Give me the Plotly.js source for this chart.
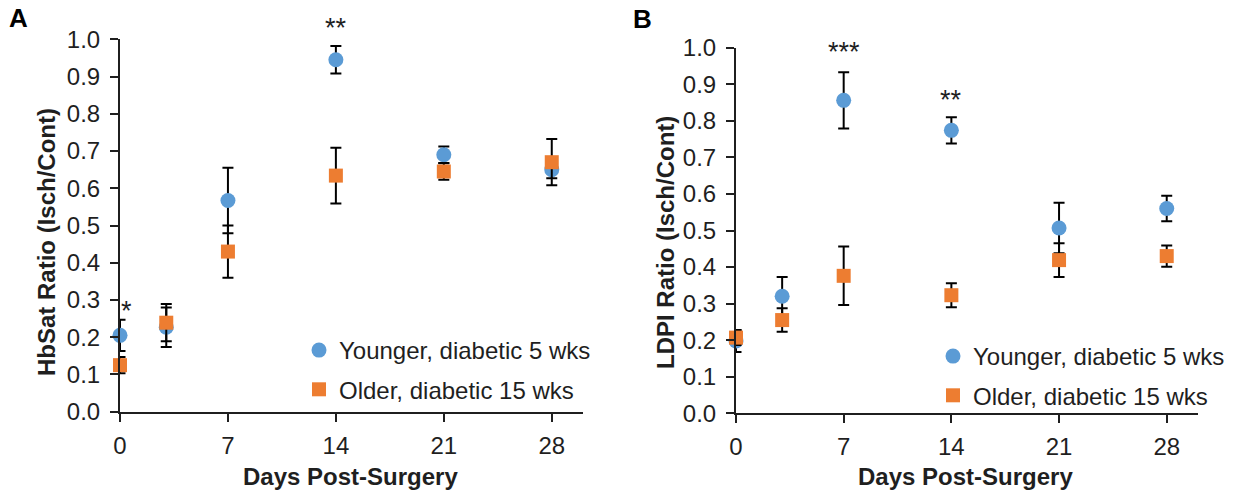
<!DOCTYPE html>
<html>
<head>
<meta charset="utf-8">
<script src="https://cdn.plot.ly/plotly-3.0.1.min.js"></script>
<style>
html,body{margin:0;padding:0;background:#fff;}
#chart{width:1237px;height:497px;}
</style>
</head>
<body>
<div id="chart"></div>
<script>
// ---- data ----
const days = [0, 3, 7, 14, 21, 28];
const xTickVals = [0, 7, 14, 21, 28];
const seriesNames = ['Younger, diabetic 5 wks', 'Older, diabetic 15 wks'];

// Panel A: HbSat ratio
const hbsatYounger    = [0.205, 0.227, 0.567, 0.945, 0.690, 0.650];
const hbsatYoungerErr = [0.042, 0.053, 0.088, 0.037, 0.022, 0.023];
const hbsatOlder      = [0.125, 0.239, 0.430, 0.634, 0.645, 0.670];
const hbsatOlderErr   = [0.022, 0.050, 0.070, 0.075, 0.022, 0.062];

// Panel B: LDPI ratio
const ldpiYounger     = [0.198, 0.320, 0.856, 0.774, 0.507, 0.560];
const ldpiYoungerErr  = [0.030, 0.053, 0.077, 0.036, 0.069, 0.035];
const ldpiOlder       = [0.207, 0.255, 0.376, 0.323, 0.419, 0.430];
const ldpiOlderErr    = [0.020, 0.032, 0.080, 0.033, 0.046, 0.029];

// significance markers (day, ratio level, label)
const sigADays = [0.43, 14];
const sigAY    = [0.27, 1.031];
const sigAText = ['*', '**'];
const sigBDays = [7, 14];
const sigBY    = [0.987, 0.856];
const sigBText = ['***', '**'];

const panelLabels = ['A', 'B'];
const yTitles = ['HbSat Ratio (Isch/Cont)', 'LDPI Ratio (Isch/Cont)'];
const xTitle = 'Days Post-Surgery';

// ---- styling ----
const FONT = 'Arial, "Liberation Sans", sans-serif';
const BLUE = '#5B9BD5';
const ORANGE = '#ED7D31';
const INK = '#1f1f1f';

function trace(y, err, name, color, symbol, xa, ya, legend, group) {
  return {
    type: 'scatter', mode: 'markers', x: days, y: y, name: name,
    xaxis: xa, yaxis: ya, legend: legend, legendgroup: group,
    cliponaxis: false,
    marker: {color: color, symbol: symbol, size: symbol === 'circle' ? 15 : 14, line: {width: 0}},
    error_y: {type: 'data', array: err, visible: true, color: '#000', thickness: 2, width: 5.5}
  };
}

const data = [
  trace(hbsatYounger, hbsatYoungerErr, seriesNames[0], BLUE, 'circle', 'x', 'y', 'legend', 'a1'),
  trace(hbsatOlder, hbsatOlderErr, seriesNames[1], ORANGE, 'square', 'x', 'y', 'legend', 'a2'),
  trace(ldpiYounger, ldpiYoungerErr, seriesNames[0], BLUE, 'circle', 'x2', 'y2', 'legend2', 'b1'),
  trace(ldpiOlder, ldpiOlderErr, seriesNames[1], ORANGE, 'square', 'x2', 'y2', 'legend2', 'b2')
];

function xaxis(domain, anchor) {
  return {
    domain: domain, range: [0, 30], fixedrange: true, anchor: anchor,
    tickmode: 'array', tickvals: xTickVals, ticktext: xTickVals.map(String),
    showline: true, linecolor: INK, linewidth: 2,
    ticks: 'outside', ticklen: 8, tickwidth: 2, tickcolor: INK,
    ticklabelstandoff: 3,
    showgrid: false, zeroline: false,
    tickfont: {family: FONT, size: 24, color: INK},
    automargin: false
  };
}
function yaxis(domain, anchor) {
  return {
    domain: domain, range: [0, 1], fixedrange: true, anchor: anchor,
    tick0: 0, dtick: 0.1, tickformat: '.1f',
    showline: true, linecolor: INK, linewidth: 2,
    ticks: 'outside', ticklen: 8, tickwidth: 2, tickcolor: INK,
    ticklabelstandoff: 5,
    showgrid: false, zeroline: false,
    tickfont: {family: FONT, size: 24, color: INK},
    automargin: false
  };
}

const legendCommon = {
  font: {family: FONT, size: 24, color: INK},
  bgcolor: 'rgba(0,0,0,0)', borderwidth: 0,
  traceorder: 'grouped', tracegroupgap: 5,
  xanchor: 'left', yanchor: 'top', itemclick: false, itemdoubleclick: false
};

const annotations = [];
sigADays.forEach((d, i) => annotations.push({
  xref: 'x', yref: 'y domain', x: d, y: sigAY[i], text: sigAText[i], showarrow: false,
  font: {family: FONT, size: 27, color: INK}, xanchor: 'center', yanchor: 'middle'
}));
sigBDays.forEach((d, i) => annotations.push({
  xref: 'x2', yref: 'y2 domain', x: d, y: sigBY[i], text: sigBText[i], showarrow: false,
  font: {family: FONT, size: 27, color: INK}, xanchor: 'center', yanchor: 'middle'
}));
// panel letters
annotations.push({xref: 'paper', yref: 'paper', x: 18 / 1237, y: 1 - 18 / 497, text: '<b>' + panelLabels[0] + '</b>',
  showarrow: false, xanchor: 'center', yanchor: 'middle', font: {family: FONT, size: 26, color: '#000'}});
annotations.push({xref: 'paper', yref: 'paper', x: 642 / 1237, y: 1 - 19 / 497, text: '<b>' + panelLabels[1] + '</b>',
  showarrow: false, xanchor: 'center', yanchor: 'middle', font: {family: FONT, size: 26, color: '#000'}});
// axis titles
annotations.push({xref: 'paper', yref: 'paper', x: 46 / 1237, y: 1 - 242 / 497, text: '<b>' + yTitles[0] + '</b>',
  textangle: -90, showarrow: false, xanchor: 'center', yanchor: 'middle', font: {family: FONT, size: 24, color: INK}});
annotations.push({xref: 'paper', yref: 'paper', x: 665 / 1237, y: 1 - 243 / 497, text: '<b>' + yTitles[1] + '</b>',
  textangle: -90, showarrow: false, xanchor: 'center', yanchor: 'middle', font: {family: FONT, size: 24, color: INK}});
annotations.push({xref: 'paper', yref: 'paper', x: 350 / 1237, y: 1 - 476 / 497, text: '<b>' + xTitle + '</b>',
  showarrow: false, xanchor: 'center', yanchor: 'middle', font: {family: FONT, size: 24, color: INK}});
annotations.push({xref: 'paper', yref: 'paper', x: 965 / 1237, y: 1 - 476 / 497, text: '<b>' + xTitle + '</b>',
  showarrow: false, xanchor: 'center', yanchor: 'middle', font: {family: FONT, size: 24, color: INK}});

const layout = {
  width: 1237, height: 497,
  margin: {l: 0, r: 0, t: 0, b: 0, pad: 0},
  paper_bgcolor: '#fff', plot_bgcolor: 'rgba(0,0,0,0)',
  showlegend: true, hovermode: false,
  font: {family: FONT, size: 24, color: INK},
  xaxis: xaxis([120 / 1237, 582.6 / 1237], 'y'),
  yaxis: yaxis([1 - 411.7 / 497, 1 - 39.3 / 497], 'x'),
  xaxis2: xaxis([736 / 1237, 1197.5 / 1237], 'y2'),
  yaxis2: yaxis([1 - 413.3 / 497, 1 - 47.7 / 497], 'x2'),
  legend: Object.assign({}, legendCommon, {x: 299 / 1237, y: 1 - 328 / 497}),
  legend2: Object.assign({}, legendCommon, {x: 933 / 1237, y: 1 - 334 / 497}),
  annotations: annotations
};

Plotly.newPlot('chart', data, layout, {displayModeBar: false, staticPlot: true});
</script>
</body>
</html>
